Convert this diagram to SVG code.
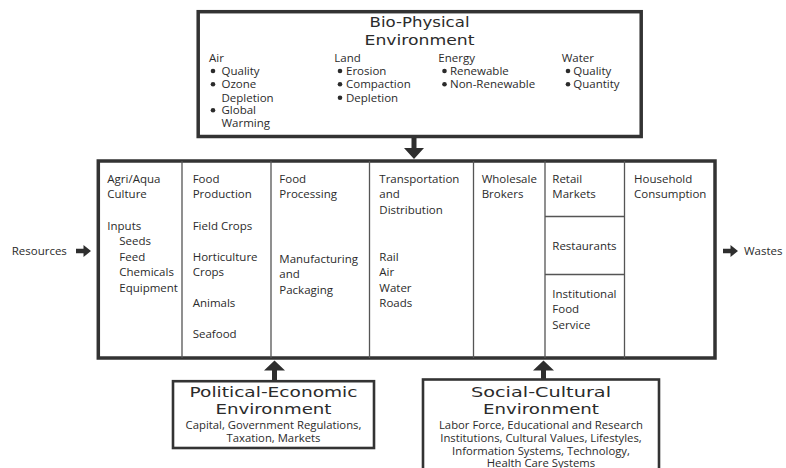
<svg xmlns="http://www.w3.org/2000/svg" width="786" height="468" viewBox="0 0 786 468">
  <defs>
    <style>
      .bg { fill: #ffffff; }
      .frame { fill: #ffffff; stroke: #333333; stroke-width: 3.5; }
      .frame-thin { fill: #ffffff; stroke: #333333; stroke-width: 2.6; }
      .div { stroke: #555555; stroke-width: 1.3; fill: none; }
      .t { font-family: "Open Sans", "Noto Sans", sans-serif; font-size: 11.5px; fill: #2b2b2b; }
      .s { font-family: "Open Sans", "Noto Sans", sans-serif; font-size: 11.3px; fill: #2b2b2b; text-anchor: middle; }
      .h { font-family: "DejaVu Sans", sans-serif; font-size: 14.5px; fill: #2b2b2b; text-anchor: middle; }
      .arrow { fill: #2e2e2e; }
      .dot { fill: #2b2b2b; }
    </style>
    <!-- small right-pointing block arrow, origin at its tail centre -->
    <path id="ra" d="M0,-2.2 H7.5 V-6 L15,0 L7.5,6 V2.2 H0 Z"/>
  </defs>

  <rect class="bg" x="0" y="0" width="786" height="468"/>

  <!-- connectors: flow arrows and environment influences -->
  <g id="connectors" class="arrow">
    <use href="#ra" x="76" y="251"/>
    <use href="#ra" x="264" y="251"/>
    <use href="#ra" x="466" y="251"/>
    <use href="#ra" x="723" y="251"/>
    <!-- bio-physical down into system -->
    <path d="M411.5,137 H416.5 V148 H424 L414,159 L404,148 H411.5 Z"/>
    <!-- political-economic up into system -->
    <path d="M272,381 H277 V370.5 H285 L274.5,360.5 L264,370.5 H272 Z"/>
    <!-- social-cultural up into system -->
    <path d="M541,379 H546 V370.5 H554 L543.5,360.5 L533,370.5 H541 Z"/>
  </g>

  <!-- Bio-Physical Environment -->
  <g id="bio-physical">
    <rect class="frame" x="198.2" y="11.7" width="443" height="124.8"/>
    <text class="h" x="419.5" y="26.7" textLength="100" lengthAdjust="spacingAndGlyphs">Bio-Physical</text>
    <text class="h" x="419.5" y="45" textLength="110" lengthAdjust="spacingAndGlyphs">Environment</text>

    <text class="t" x="209" y="62.3">Air</text>
    <circle class="dot" cx="213" cy="71" r="2.3"/>
    <text class="t" x="221.5" y="75">Quality</text>
    <circle class="dot" cx="213" cy="84.3" r="2.3"/>
    <text class="t" x="221.5" y="88.3">Ozone</text>
    <text class="t" x="221.5" y="101.7">Depletion</text>
    <circle class="dot" cx="213" cy="110.3" r="2.3"/>
    <text class="t" x="221.5" y="114.3">Global</text>
    <text class="t" x="221.5" y="126.9">Warming</text>

    <text class="t" x="334.3" y="62.3">Land</text>
    <circle class="dot" cx="340" cy="71" r="2.3"/>
    <text class="t" x="346" y="75">Erosion</text>
    <circle class="dot" cx="340" cy="84.3" r="2.3"/>
    <text class="t" x="346" y="88.3">Compaction</text>
    <circle class="dot" cx="340" cy="97.7" r="2.3"/>
    <text class="t" x="346" y="101.7">Depletion</text>

    <text class="t" x="438.3" y="62.3">Energy</text>
    <circle class="dot" cx="444.5" cy="71" r="2.3"/>
    <text class="t" x="450" y="75">Renewable</text>
    <circle class="dot" cx="444.5" cy="84.3" r="2.3"/>
    <text class="t" x="450" y="88.3">Non-Renewable</text>

    <text class="t" x="561.7" y="62.3">Water</text>
    <circle class="dot" cx="568" cy="71" r="2.3"/>
    <text class="t" x="573.3" y="75">Quality</text>
    <circle class="dot" cx="568" cy="84.3" r="2.3"/>
    <text class="t" x="573.3" y="88.3">Quantity</text>
  </g>

  <!-- outside labels -->
  <g id="resources">
    <text class="t" x="11.7" y="254.5">Resources</text>
  </g>
  <g id="wastes">
    <text class="t" x="744" y="254.5">Wastes</text>
  </g>

  <!-- food system -->
  <g id="food-system">
    <rect class="frame" x="98.3" y="161" width="616.7" height="197"/>
    <path class="div" d="M182,161 V358 M271,161 V358 M369.5,161 V358 M473.5,161 V358 M545,161 V358 M624.5,161 V358 M545,216.5 H624.5 M545,274.5 H624.5"/>
  </g>

  <g id="agri-aqua">
    <text class="t" x="107.3" y="183.3">Agri/Aqua</text>
    <text class="t" x="107.3" y="198.3">Culture</text>
    <text class="t" x="107.3" y="230">Inputs</text>
    <text class="t" x="119.3" y="245">Seeds</text>
    <text class="t" x="119.3" y="260.7">Feed</text>
    <text class="t" x="119.3" y="276">Chemicals</text>
    <text class="t" x="119.3" y="291.7">Equipment</text>
  </g>

  <g id="food-production">
    <text class="t" x="192.7" y="183.3">Food</text>
    <text class="t" x="192.7" y="198.3">Production</text>
    <text class="t" x="192.7" y="230">Field Crops</text>
    <text class="t" x="192.7" y="260.7">Horticulture</text>
    <text class="t" x="192.7" y="276">Crops</text>
    <text class="t" x="192.7" y="307.3">Animals</text>
    <text class="t" x="192.7" y="337.7">Seafood</text>
  </g>

  <g id="food-processing">
    <text class="t" x="279.3" y="183.3">Food</text>
    <text class="t" x="279.3" y="198.3">Processing</text>
    <text class="t" x="279.3" y="263.3">Manufacturing</text>
    <text class="t" x="279.3" y="278.3">and</text>
    <text class="t" x="279.3" y="294">Packaging</text>
  </g>

  <g id="transportation">
    <text class="t" x="379.3" y="183.3">Transportation</text>
    <text class="t" x="379.3" y="198.3">and</text>
    <text class="t" x="379.3" y="214">Distribution</text>
    <text class="t" x="379.3" y="260.7">Rail</text>
    <text class="t" x="379.3" y="276">Air</text>
    <text class="t" x="379.3" y="291.7">Water</text>
    <text class="t" x="379.3" y="307.3">Roads</text>
  </g>

  <g id="wholesale">
    <text class="t" x="481.7" y="183.3">Wholesale</text>
    <text class="t" x="481.7" y="198.3">Brokers</text>
  </g>

  <g id="retail">
    <text class="t" x="552.3" y="183.3">Retail</text>
    <text class="t" x="552.3" y="198.3">Markets</text>
  </g>
  <g id="restaurants">
    <text class="t" x="552.3" y="250">Restaurants</text>
  </g>
  <g id="institutional">
    <text class="t" x="552.3" y="298.3">Institutional</text>
    <text class="t" x="552.3" y="313.3">Food</text>
    <text class="t" x="552.3" y="329.3">Service</text>
  </g>

  <g id="household">
    <text class="t" x="634" y="183.3">Household</text>
    <text class="t" x="634" y="198.3">Consumption</text>
  </g>

  <!-- Political-Economic Environment -->
  <g id="political-economic">
    <rect class="frame-thin" x="173" y="381.2" width="201" height="66.8"/>
    <text class="h" x="273.5" y="396.7" textLength="168" lengthAdjust="spacingAndGlyphs">Political-Economic</text>
    <text class="h" x="273.5" y="414.3" textLength="116" lengthAdjust="spacingAndGlyphs">Environment</text>
    <text class="s" x="273.5" y="429">Capital, Government Regulations,</text>
    <text class="s" x="273.5" y="442">Taxation, Markets</text>
  </g>

  <!-- Social-Cultural Environment -->
  <g id="social-cultural">
    <rect class="frame-thin" x="423" y="379.5" width="236" height="100"/>
    <text class="h" x="541" y="396.7" textLength="140" lengthAdjust="spacingAndGlyphs">Social-Cultural</text>
    <text class="h" x="541" y="414.3" textLength="116" lengthAdjust="spacingAndGlyphs">Environment</text>
    <text class="s" x="541" y="429">Labor Force, Educational and Research</text>
    <text class="s" x="541" y="442">Institutions, Cultural Values, Lifestyles,</text>
    <text class="s" x="541" y="454.5">Information Systems, Technology,</text>
    <text class="s" x="541" y="466.5">Health Care Systems</text>
  </g>
</svg>
